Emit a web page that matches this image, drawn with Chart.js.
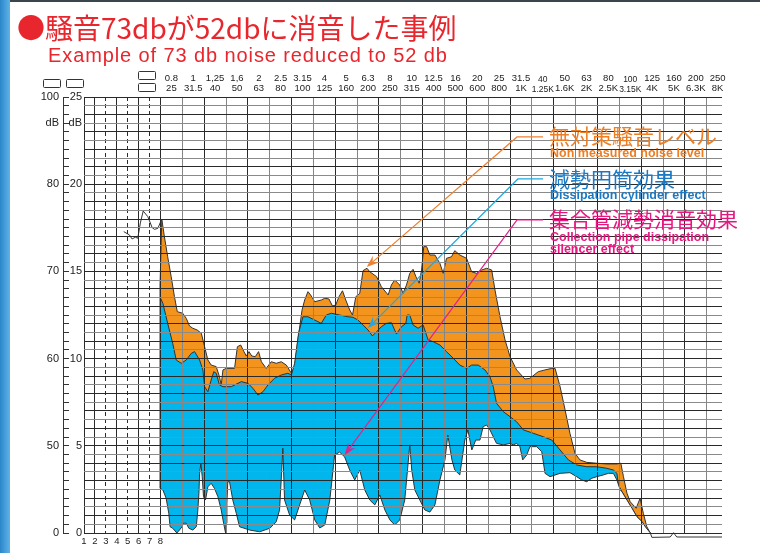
<!DOCTYPE html>
<html>
<head>
<meta charset="utf-8">
<script src="https://cdn.jsdelivr.net/npm/chart.js@4/dist/chart.umd.min.js"></script>
<style>
    body { margin: 0; width: 760px; height: 553px; overflow: hidden; background: #fff; position: relative; font-family: "Liberation Sans", Arial, sans-serif; }
    #sideBar { position: absolute; left: 0; top: 0; width: 10px; height: 553px; background: linear-gradient(to right, #2b86c9, #5fb3e6); }
    #topBar { position: absolute; left: 10px; top: 0; width: 750px; height: 2px; background: #3a4550; }
    #myChart { position: absolute; left: 0; top: 0; }
    .txt { position: absolute; white-space: nowrap; line-height: 1; }
    .jp { font-family: "Noto Sans CJK JP", sans-serif; }
    .box { position: absolute; box-sizing: border-box; width: 18px; height: 9px; border: 1px solid #333; border-radius: 1.5px; }
</style>
</head>
<body>
<div id="sideBar"></div>
<div id="topBar"></div>
<canvas id="myChart" width="760" height="553"></canvas>

<div class="txt jp" style="left:17px;top:13px;font-size:28px;color:#e8262d;">●騒音73dbが52dbに消音した事例</div>
<div class="txt" style="left:48px;top:45px;font-size:20px;letter-spacing:0.9px;color:#e8262d;">Example of 73 db noise reduced to 52 db</div>

<div class="box" style="left:43px;top:79px;"></div>
<div class="box" style="left:66px;top:79px;"></div>
<div class="box" style="left:138px;top:71px;"></div>
<div class="box" style="left:138px;top:83px;"></div>

<div class="txt jp" style="left:549px;top:125px;font-size:21px;color:#ef7d22;">無対策騒音レベル</div>
<div class="txt" style="left:550px;top:147px;font-size:12.5px;font-weight:bold;color:#ef7d22;">Non measured noise level</div>
<div class="txt jp" style="left:549px;top:168px;font-size:21px;color:#1b79c4;">減勢円筒効果</div>
<div class="txt" style="left:550px;top:189px;font-size:12.5px;font-weight:bold;color:#1b79c4;">Dissipation cylinder effect</div>
<div class="txt jp" style="left:549px;top:208px;font-size:21px;color:#e3197f;">集合管減勢消音効果</div>
<div class="txt" style="left:550px;top:231px;font-size:12.5px;font-weight:bold;color:#e3197f;">Collection pipe dissipation</div>
<div class="txt" style="left:550px;top:243px;font-size:12.5px;font-weight:bold;color:#e3197f;">silencer effect</div>

<script>
/* axis labels */
const bandHz = ['0.8', '1', '1,25', '1,6', '2', '2.5', '3.15', '4', '5', '6.3', '8', '10', '12.5', '16', '20', '25', '31.5', '40', '50', '63', '80', '100', '125', '160', '200', '250'];
const bandHz2 = ['25', '31.5', '40', '50', '63', '80', '100', '125', '160', '200', '250', '315', '400', '500', '600', '800', '1K', '1.25K', '1.6K', '2K', '2.5K', '3.15K', '4K', '5K', '6.3K', '8K'];
const bottomLabels = ['1', '2', '3', '4', '5', '6', '7', '8'];
const yTickVals = [25, 23.5, 20, 15, 10, 5, 0];
const yOuterText = ['100', 'dB', '80', '70', '60', '50', '0'];
const yInnerText = ['25', 'dB', '20', '15', '10', '5', '0'];

/* thin line before band 0.8 */
const refX = [-1.68, -1.42, -1.30, -1.15, -1.04, -0.92, -0.79, -0.58, -0.38, -0.27, -0.12, 0.06];
const refY = [17.28, 17.09, 16.86, 16.96, 16.90, 17.78, 18.46, 18.14, 17.51, 17.41, 17.47, 18.00];

/* non measured noise level (orange) */
const noiseX = [-0.02, -0.02, 0.06, 0.18, 0.33, 0.49, 0.64, 0.77, 1.02, 1.18,
    1.33, 1.48, 1.68, 1.87, 2.02, 2.17, 2.32, 2.55, 2.70, 2.78,
    2.86, 3.01, 3.39, 3.52, 3.67, 3.82, 3.93, 4.05, 4.18, 4.34,
    4.49, 4.62, 4.84, 5.07, 5.30, 5.53, 5.76, 5.99, 6.14, 6.29,
    6.48, 6.60, 6.75, 6.87, 7.06, 7.36, 7.52, 7.71, 7.87, 8.02,
    8.17, 8.33, 8.48, 8.66, 8.79, 8.94, 9.12, 9.27, 9.45, 9.58,
    9.89, 10.11, 10.42, 10.57, 10.72, 10.95, 11.10, 11.26, 11.41, 11.56,
    11.69, 11.84, 11.95, 12.05, 12.18, 12.33, 12.56, 12.79, 12.94, 13.09,
    13.32, 13.47, 13.70, 14.01, 14.24, 14.47, 14.70, 14.93, 15.16, 15.31,
    15.54, 15.77, 16.00, 16.30, 16.68, 16.91, 17.29, 17.60, 17.91, 18.06,
    18.29, 18.52, 18.74, 18.97, 19.20, 19.51, 19.97, 20.43, 20.89, 21.07,
    21.19, 21.35, 21.50, 21.77, 21.95, 22.10, 22.26, 22.42];
const noiseY = [13.53, 14.22, 18.00, 16.99, 15.84, 14.70, 13.55, 12.69, 12.60, 12.31,
    11.87, 11.74, 11.64, 11.45, 10.68, 9.92, 9.63, 9.54, 8.96, 8.49,
    9.35, 9.44, 9.44, 10.68, 10.78, 10.40, 10.15, 10.40, 10.15, 10.11,
    10.40, 9.82, 9.44, 9.82, 9.73, 9.82, 9.63, 9.16, 9.54, 11.07,
    12.79, 13.36, 13.84, 13.65, 13.26, 13.36, 13.46, 13.42, 13.02, 13.07,
    13.55, 13.89, 13.36, 12.79, 12.50, 13.55, 13.74, 15.04, 15.18, 14.98,
    14.70, 14.12, 13.65, 14.22, 14.51, 14.22, 13.74, 14.22, 14.89, 15.12,
    14.70, 14.32, 15.08, 16.42, 16.42, 15.94, 15.94, 15.46, 14.89, 15.75,
    15.84, 16.19, 15.94, 15.75, 14.98, 14.89, 15.08, 15.18, 15.08, 13.93,
    12.40, 11.07, 10.11, 9.35, 8.83, 8.87, 9.25, 9.35, 9.44, 9.44,
    8.39, 7.05, 5.72, 4.57, 4.19, 4.05, 4.00, 3.96, 3.96, 4.00,
    3.23, 2.28, 1.79, 1.42, 1.99, 1.13, 0.36, 0];

/* dissipation cylinder effect (blue) */
const cylX = [-0.02, -0.02, 0.11, 0.33, 0.56, 0.72, 0.95, 1.18, 1.41, 1.56,
    1.79, 1.94, 2.02, 2.17, 2.32, 2.44, 2.55, 2.70, 2.86, 3.24,
    3.70, 4.00, 4.23, 4.46, 4.69, 4.92, 5.22, 5.53, 5.83, 5.99,
    6.14, 6.32, 6.52, 6.75, 7.06, 7.36, 7.59, 7.82, 8.20, 8.58,
    8.81, 9.04, 9.27, 9.50, 9.70, 9.89, 10.11, 10.34, 10.57, 10.80,
    11.03, 11.23, 11.29, 11.41, 11.56, 11.79, 12.02, 12.25, 12.48, 12.79,
    13.09, 13.40, 13.70, 14.01, 14.24, 14.54, 14.85, 15.08, 15.23, 15.38,
    15.69, 16.00, 16.30, 16.61, 17.06, 17.52, 17.91, 18.29, 18.67, 19.05,
    19.51, 19.97, 20.43, 20.73, 20.89, 20.96, 21.12, 21.35, 21.58, 21.81,
    22.04, 22.19, 22.42];
const cylY = [2.56, 13.53, 13.17, 12.02, 10.88, 9.92, 9.73, 9.92, 10.30, 10.40,
    9.92, 9.35, 8.39, 8.10, 8.77, 9.25, 9.16, 8.49, 8.39, 8.39,
    8.68, 8.58, 8.30, 7.91, 8.10, 8.49, 8.87, 9.06, 9.16, 9.06,
    9.73, 11.45, 12.40, 12.40, 12.21, 12.02, 12.50, 12.60, 12.50, 12.40,
    12.37, 12.21, 11.93, 11.64, 11.30, 11.54, 11.83, 12.02, 12.06, 11.41,
    11.83, 12.02, 12.50, 12.50, 11.93, 11.74, 11.93, 11.07, 10.97, 10.78,
    10.40, 10.02, 9.63, 9.44, 9.63, 9.63, 9.35, 8.96, 8.39, 7.44,
    6.96, 6.67, 6.38, 5.91, 5.72, 5.52, 5.33, 4.76, 4.19, 3.90,
    3.80, 3.80, 3.71, 3.61, 3.42, 2.75, 2.37, 1.89, 1.42, 0.93,
    0.65, 0.36, 0];

/* collection pipe dissipation silencer effect (lower edge of blue) */
const pipeX = [-0.02, 0.00, 0.11, 0.26, 0.38, 0.44, 0.56, 0.75, 0.87, 0.99,
    1.05, 1.18, 1.30, 1.48, 1.64, 1.71, 1.76, 1.79, 1.85, 1.91,
    1.97, 2.06, 2.17, 2.32, 2.47, 2.63, 2.78, 2.89, 2.98, 3.01,
    3.04, 3.08, 3.16, 3.31, 3.47, 3.62, 4.08, 4.54, 5.00, 5.30,
    5.45, 5.55, 5.60, 5.68, 5.91, 6.14, 6.37, 6.60, 6.83, 7.06,
    7.29, 7.52, 7.75, 7.97, 8.20, 8.43, 8.66, 8.89, 9.12, 9.35,
    9.58, 9.81, 10.04, 10.27, 10.50, 10.72, 10.95, 11.18, 11.41, 11.50,
    11.64, 11.87, 12.10, 12.33, 12.56, 12.79, 13.02, 13.15, 13.34, 13.47,
    13.70, 13.93, 14.07, 14.25, 14.43, 14.62, 14.77, 14.93, 15.08, 15.38,
    15.69, 16.00, 16.15, 16.30, 16.45, 16.58, 16.76, 16.91, 17.22, 17.45,
    17.60, 17.83, 18.29, 18.74, 19.05, 19.28, 19.51, 19.74, 19.97, 20.27,
    20.50, 20.73, 20.89, 21.04, 21.12, 21.35, 21.58, 21.81, 22.04, 22.19,
    22.42, 22.49, 23.33, 23.48, 23.63, 25.70];
const pipeY = [2.56, 2.56, 2.47, 1.99, 1.13, 0.36, 0.27, 0, 0.17, 0.36,
    0.56, 0.56, 0.27, 0.17, 0.36, 1.32, 2.28, 3.42, 4.00, 3.23,
    2.08, 1.89, 2.65, 2.85, 2.56, 2.08, 1.32, 0.56, 0, 0.56,
    1.70, 2.94, 2.94, 1.89, 1.13, 0.36, 0.17, 0.07, 0.27, 0.65,
    1.32, 3.61, 4.86, 1.89, 1.03, 0.75, 1.61, 2.47, 1.89, 0.75,
    0.29, 0.46, 1.89, 4.47, 4.64, 4.36, 3.61, 3.04, 3.61, 2.47,
    1.89, 1.61, 2.18, 1.32, 0.75, 0.46, 0.75, 1.89, 5.05, 3.61,
    2.47, 1.89, 1.32, 1.20, 1.61, 3.04, 4.19, 5.62, 4.19, 3.61,
    3.33, 5.33, 5.91, 4.76, 5.33, 5.33, 6.10, 6.19, 5.91, 5.14,
    5.05, 5.14, 5.05, 5.14, 4.95, 4.19, 4.47, 4.95, 4.95, 4.66,
    3.42, 3.23, 3.42, 3.46, 3.23, 3.04, 2.94, 3.14, 3.23, 3.33,
    3.42, 3.42, 3.04, 2.47, 2.37, 1.89, 1.42, 0.93, 0.65, 0.36,
    0, -0.25, -0.23, 0.02, -0.23, -0.23];

/* leader lines for the notes */
const leaderColors = ['#f08030', '#1fa8e2', '#e2238c'];
const leaderTipX = [9.44, 9.49, 8.43];
const leaderTipY = [15.25, 11.75, 4.47];
const leaderElbowX = [16.32, 16.36, 16.32];
const leaderElbowY = [22.71, 20.30, 17.95];
const leaderEndX = 17.51;

function toPoints(xs, ys) {
    return xs.map((x, i) => ({ x: x, y: ys[i] }));
}

// grid positions: narrow columns 1-8, then one per band
const xGrid = [];
for (let v = -3.5; v < 0; v += 0.5) xGrid.push(v);
for (let v = 0; v <= 25; v++) xGrid.push(v);
const yGrid = [];
for (let v = 0; v <= 25; v += 0.5) yGrid.push(v);

function yLabel(texts) {
    return function (value) {
        const i = yTickVals.indexOf(value);
        return i >= 0 ? texts[i] : '';
    };
}

const leaderPlugin = {
    id: 'leaderPlugin',
    afterDraw(chart) {
        const ctx = chart.ctx;
        const xs = chart.scales.x;
        const ys = chart.scales.y;
        for (let i = 0; i < leaderColors.length; i++) {
            const tx = xs.getPixelForValue(leaderTipX[i]);
            const ty = ys.getPixelForValue(leaderTipY[i]);
            const ex = xs.getPixelForValue(leaderElbowX[i]);
            const ey = ys.getPixelForValue(leaderElbowY[i]);
            const sx = xs.getPixelForValue(leaderEndX);
            const a = Math.atan2(ty - ey, tx - ex);
            const c = Math.cos(a), s = Math.sin(a);
            const len = 12, w = 4.5;
            ctx.save();
            ctx.strokeStyle = leaderColors[i];
            ctx.fillStyle = leaderColors[i];
            ctx.lineWidth = 1.2;
            ctx.beginPath();
            ctx.moveTo(sx, ey);
            ctx.lineTo(ex, ey);
            ctx.lineTo(tx - c * 6, ty - s * 6);
            ctx.stroke();
            ctx.beginPath();
            ctx.moveTo(tx, ty);
            ctx.lineTo(tx - c * len - s * w, ty - s * len + c * w);
            ctx.lineTo(tx - c * len * 0.65, ty - s * len * 0.65);
            ctx.lineTo(tx - c * len + s * w, ty - s * len - c * w);
            ctx.closePath();
            ctx.fill();
            ctx.restore();
        }
    }
};

/* chart */
Chart.defaults.font.family = '"Liberation Sans", Arial, sans-serif';
Chart.defaults.color = '#222';

const ctx = document.getElementById('myChart').getContext('2d');
const dashed = [-2.5, -1.5, -0.5];

new Chart(ctx, {
    type: 'line',
    data: {
        datasets: [
            {
                label: 'pipe',
                data: toPoints(pipeX, pipeY),
                borderColor: '#333',
                backgroundColor: '#ffffff',
                fill: 'origin',
                clip: false
            },
            {
                label: 'cylinder',
                data: toPoints(cylX, cylY),
                borderColor: '#333',
                backgroundColor: '#00b6ec',
                fill: 'origin'
            },
            {
                label: 'noise',
                data: toPoints(noiseX, noiseY),
                borderColor: '#333',
                backgroundColor: '#f3941f',
                fill: 'origin'
            },
            {
                label: 'ref',
                data: toPoints(refX, refY),
                borderColor: '#333',
                fill: false
            }
        ]
    },
    options: {
        responsive: false,
        animation: false,
        layout: { padding: { left: 14, right: 38, top: 62, bottom: 2 } },
        plugins: { legend: { display: false }, tooltip: { enabled: false } },
        elements: {
            point: { radius: 0 },
            line: { tension: 0, borderWidth: 1 }
        },
        scales: {
            x: {
                type: 'linear', position: 'bottom', min: -3.5, max: 25.7,
                afterBuildTicks: s => { s.ticks = xGrid.map(v => ({ value: v })); },
                afterFit: s => { s.height = 18; },
                ticks: {
                    autoSkip: false, maxRotation: 0, padding: 3, font: { size: 9.5 },
                    callback: (v, i) => i < bottomLabels.length ? bottomLabels[i] : ''
                },
                grid: {
                    z: 1, drawTicks: false, lineWidth: 1,
                    color: c => {
                        const v = c.tick ? c.tick.value : 0;
                        return (v <= 0 || v % 2 === 0) ? '#2a2a2a' : '#858585';
                    }
                },
                border: {
                    display: false,
                    dash: c => (c.tick && dashed.includes(c.tick.value)) ? [4, 3] : []
                }
            },
            x2: {
                type: 'linear', position: 'top', min: -3.5, max: 25.7,
                afterBuildTicks: s => { s.ticks = bandHz.map((b, i) => ({ value: i + 0.5 })); },
                afterFit: s => { s.height = 35; },
                ticks: {
                    autoSkip: false, maxRotation: 0, padding: 3,
                    font: c => ({ size: (bandHz2[c.index] || '').length >= 5 ? 8.5 : 9.5, lineHeight: 1.1 }),
                    callback: (v, i) => [bandHz[i], bandHz2[i]]
                },
                grid: { display: false, drawTicks: false },
                border: { display: false }
            },
            y2: {
                type: 'linear', position: 'left', min: 0, max: 25, weight: 10,
                afterBuildTicks: s => { s.ticks = yGrid.map(v => ({ value: v })); },
                afterFit: s => { s.width = 49; },
                ticks: { autoSkip: false, padding: 10, font: { size: 11 }, callback: yLabel(yOuterText) },
                grid: { drawOnChartArea: false, drawTicks: true, tickLength: -6, tickColor: '#333', tickWidth: 1 },
                border: { display: true, color: '#333', width: 1 }
            },
            y: {
                type: 'linear', position: 'left', min: 0, max: 25, weight: 0,
                afterBuildTicks: s => { s.ticks = yGrid.map(v => ({ value: v })); },
                afterFit: s => { s.width = 21; },
                ticks: { autoSkip: false, padding: 2, font: { size: 11 }, callback: yLabel(yInnerText) },
                grid: {
                    z: 1, drawTicks: false, lineWidth: 1,
                    color: c => (c.tick && c.tick.value % 1 === 0) ? '#2a2a2a' : '#8a8a8a'
                },
                border: { display: false }
            }
        }
    },
    plugins: [leaderPlugin]
});
</script>
</body>
</html>
